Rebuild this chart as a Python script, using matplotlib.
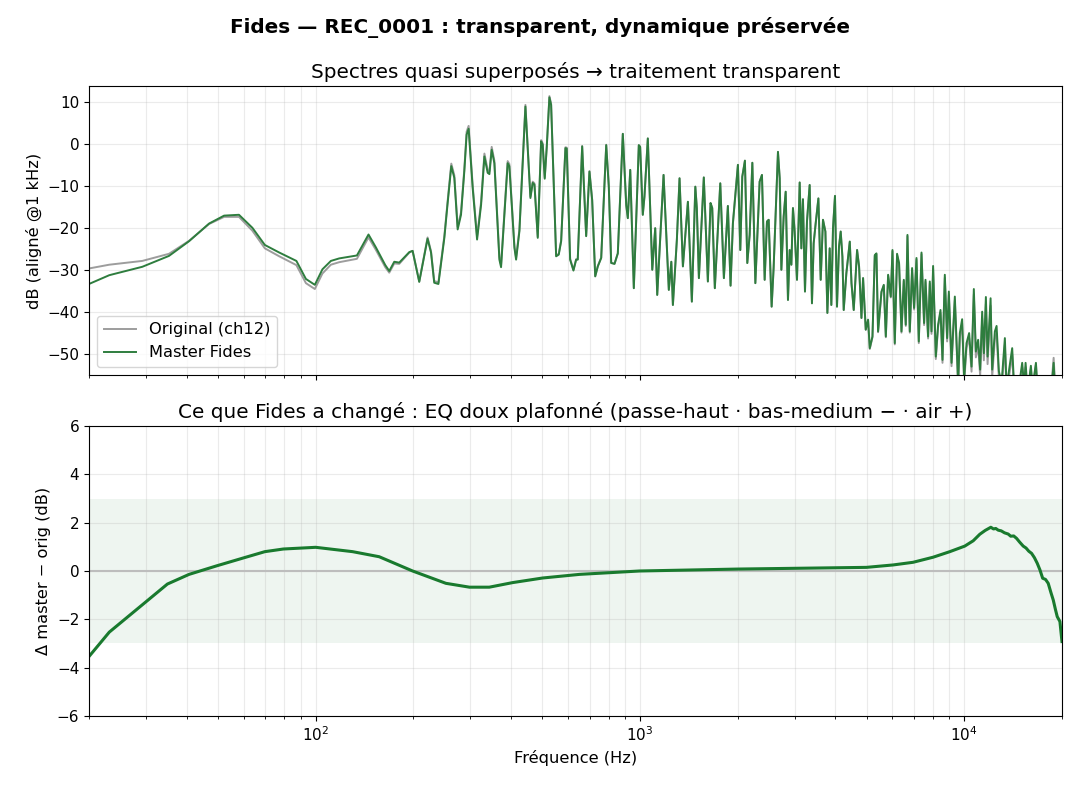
import numpy as np
import matplotlib
matplotlib.use("Agg")
import matplotlib.pyplot as plt

# ── Spectre, par bandes ──────────────────────────────────────────────────────
# graves : original et master diffèrent (passe-haut / bas-medium)
F_LOW = [20, 23.1, 29.2, 35.3, 40.7, 46.9, 52.2, 58.0, 63.8, 69.7, 77.2, 87.2,
         93.3, 99.4, 104.9, 111.4, 118.2, 134, 145.5, 153.4, 163.9, 168.6,
         174.7, 181, 194.4, 199, 208.6, 221.3, 226.8, 232, 239]
M_LOW = [-33.3, -31.2, -29.2, -26.6, -23.1, -18.9, -17.0, -16.8, -19.9, -24.0,
         -25.8, -27.8, -32.1, -33.5, -29.8, -27.8, -27.2, -26.5, -21.5, -24.6,
         -28.8, -30.2, -28.0, -28.2, -25.7, -25.4, -32.8, -22.5, -25.8, -33.0,
         -33.3]
O_LOW = [-29.6, -28.7, -27.8, -26.1, -23.0, -19.0, -17.3, -17.3, -20.6, -24.8,
         -26.7, -28.8, -33.1, -34.5, -30.8, -28.7, -28.1, -27.3, -22.2, -25.2,
         -29.3, -30.6, -28.4, -28.5, -25.8, -25.4, -32.7, -22.2, -25.5, -32.6,
         -32.9]

# bas-medium
F_MID = [249.3, 255.2, 261.9, 267.6, 274.0, 280.6, 287.3, 292.0, 296.2, 304.8,
         314.5, 323.6, 331.3, 339.1, 343.3, 348.9, 355.6, 368.5, 372.9, 390.8,
         395.5, 410.0, 414.9, 424.8, 443.3, 459.3, 466.9, 472.6, 483.8, 495.6,
         501.2, 508.4, 515.6, 525.6, 532.0, 551.3, 561.6, 571.3, 588.9, 594.4,
         608.9, 623.4, 635.4, 642.7, 663.2, 682.3, 698.4, 712.0, 727.6, 741.2,
         759.2, 786.7, 801.3, 815.0]
M_MID = [-22.3, -14.0, -5.2, -8.0, -20.3, -16.8, -6.4, 2.3, 3.7, -10.4,
         -22.7, -14.4, -2.9, -6.8, -7.1, -1.3, -4.5, -27.5, -29.3, -4.5,
         -5.2, -24.7, -27.5, -20.7, 9.0, -12.8, -9.2, -9.6, -22.3, 0.7,
         -0.1, -8.2, -0.9, 11.2, 9.4, -26.7, -26.3, -23.1, -0.9, -1.0,
         -27.5, -30.1, -27.5, -27.5, -0.5, -21.9, -6.5, -13.3, -31.5, -29.1,
         -27.1, -0.2, -10.1, -28.3]
O_MID = [-21.8, -13.5, -4.6, -7.4, -19.7, -16.2, -5.8, 3.0, 4.4, -9.7,
         -22.0, -13.7, -2.2, -6.1, -6.4, -0.6, -3.9, -26.9, -28.7, -4.0,
         -4.7, -24.2, -27.0, -20.3, 9.4, -12.4, -8.9, -9.3, -22.0, 1.0,
         0.2, -7.9, -0.6, 11.5, 9.6, -26.5, -26.1, -22.9, -0.7, -0.8,
         -27.3, -29.9, -27.4, -27.4, -0.4, -21.8, -6.4, -13.2, -31.4, -29.0,
         -27.0, -0.1, -10.0, -28.2]

# medium : les deux courbes se confondent
F_SHARED = [834.4, 854.2, 885.1, 906.8, 917.1, 933.0, 957.0, 991.5, 1001, 1020,
            1032, 1057, 1091, 1114, 1130, 1182, 1227, 1249, 1263, 1299, 1324,
            1356, 1382, 1405, 1445, 1481, 1497, 1519, 1573, 1619, 1650, 1670,
            1701, 1768, 1814, 1866, 1902, 1934, 2004, 2038, 2067, 2106, 2142,
            2178, 2220, 2268, 2338, 2377, 2423, 2463, 2493, 2546, 2582, 2663,
            2696, 2728, 2773, 2813, 2859, 2894, 2929, 2962, 2998, 3048, 3107,
            3144, 3180, 3226, 3272, 3335, 3390, 3431, 3481, 3548, 3607, 3666,
            3729, 3782, 3845, 3890, 3936, 3992, 4049, 4107, 4157, 4208, 4247,
            4328, 4434, 4488, 4560, 4670, 4736, 4817, 4873, 4966]
SHARED_DB = [-28.5, -26.0, 2.5, -14.5, -17.6, -6.1, -34.3, -0.2, -0.6, -16.8,
             -12.5, 1.4, -29.9, -20.0, -35.9, -7.3, -34.7, -28.0, -38.3, -22.8,
             -8.1, -29.1, -20.8, -13.7, -37.5, -10.1, -15.2, -31.9, -7.9, -32.7,
             -14.0, -15.2, -34.3, -9.3, -31.9, -14.7, -33.7, -18.8, -4.9, -25.2,
             -7.7, -3.9, -28.3, -21.6, -4.4, -33.1, -8.9, -7.3, -32.3, -18.4,
             -18.0, -38.7, -29.5, -1.8,
             -8.1, -29.9, -17.2, -11.3, -37.1, -25.2, -28.7, -15.2, -20.8, -32.3,
             -9.1, -24.8, -13.1, -35.1, -18.4, -9.7, -37.9, -23.6, -18.8, -12.9,
             -32.3, -18.0, -20.8, -40.2, -24.8, -38.3, -20.0, -12.3, -38.7, -24.4,
             -20.8, -26.8, -39.5, -30.7, -23.2, -33.1, -39.5, -25.2, -29.1, -41.4,
             -31.9, -44.2]

# aigus : l'air ajouté par le master
F_HIGH = [5049, 5110, 5209, 5295, 5358, 5420, 5553, 5645, 5727, 5821,
          5932, 6004, 6103, 6203, 6292, 6400, 6506, 6598, 6678, 6789,
          6901, 7000, 7120, 7237, 7378, 7515, 7590, 7731, 7825, 7921,
          8011, 8166, 8301, 8443, 8564, 8706, 8850, 8958, 9131, 9348,
          9461, 9570, 9685, 9845, 9986, 10157, 10347, 10525, 10698, 10852,
          11030, 11189, 11350, 11488, 11653, 11794, 12049, 12186, 12421, 12573,
          12780, 13027, 13335, 13497, 14046, 14247, 14657, 15080, 15296, 15448,
          15670, 16040, 16236, 16625, 16826, 17724, 18584, 18851, 19026, 20000]
M_HIGH = [-41.8, -48.6, -45.8, -26.4, -26.0, -44.6, -35.1, -33.5, -45.8, -31.1,
          -36.3, -25.2, -47.4, -26.1, -28.3, -44.6, -32.3, -43.0, -21.6, -44.6,
          -29.5, -39.0, -27.1, -47.0, -25.8, -42.6, -32.3, -45.8, -32.7, -44.6,
          -29.0, -50.6, -43.0, -39.5, -51.4, -31.1, -46.2, -35.1, -52.1, -36.3,
          -46.6, -57.0, -45.0, -41.7, -56.0, -47.4, -45.0, -53.0, -34.5, -49.4,
          -46.6, -53.7, -39.9, -49.8, -36.4, -50.6, -36.7, -53.7, -44.6, -43.3,
          -54.1, -57.0, -46.2, -58.0, -48.6, -58.0, -59.0, -52.1, -58.0, -52.1,
          -59.0, -52.8, -58.0, -52.1, -59.0, -61.0, -58.0, -52.1, -58.0, -60.0]
O_HIGH = [-42.0, -48.8, -46.0, -26.6, -26.2, -44.8, -35.3, -33.7, -46.0, -31.3,
          -36.5, -25.5, -47.7, -26.4, -28.6, -44.9, -32.6, -43.3, -21.9, -44.9,
          -29.9, -39.4, -27.5, -47.4, -26.2, -43.1, -32.8, -46.3, -33.2, -45.2,
          -29.6, -51.2, -43.6, -40.2, -52.1, -31.8, -47.0, -35.9, -52.9, -37.2,
          -47.5, -57.9, -46.0, -42.7, -57.0, -48.5, -46.2, -54.2, -35.8, -50.8,
          -48.1, -55.2, -41.5, -51.5, -38.1, -52.4, -38.5, -55.5, -46.4, -45.0,
          -55.8, -58.6, -47.8, -59.6, -50.1, -59.4, -60.3, -53.2, -59.0, -53.1,
          -59.9, -53.6, -58.7, -52.5, -59.3, -60.6, -57.0, -50.9, -56.5, -57.1]

freq_hz = F_LOW + F_MID + F_SHARED + F_HIGH
master_db = M_LOW + M_MID + SHARED_DB + M_HIGH
orig_db = O_LOW + O_MID + SHARED_DB + O_HIGH

# ── Différence master - original (courbe lissée) ─────────────────────────────
delta_hz = [
    20, 23.1, 29.2, 34.9, 40.7, 49.7, 60.2, 69.7, 79.5, 100, 130, 157, 199,
    252, 298, 343, 405, 501, 651, 997, 2004, 4990, 6030, 6950, 8010, 9020,
    10030, 10650, 11160, 11600, 12070, 12300, 12500, 12720, 13000, 13300,
    13650, 13900, 14200, 14490, 14800, 15190, 15500, 15800, 16120, 16450,
    16780, 17100, 17440, 17800, 18140, 18500, 18800, 19100, 19340, 19710, 20000,
]
delta_db = [
    -3.54, -2.53, -1.40, -0.54, -0.14, 0.22, 0.55, 0.80, 0.91, 0.98, 0.80,
    0.59, 0.0, -0.51, -0.67, -0.67, -0.48, -0.29, -0.14, 0.0, 0.08, 0.15,
    0.25, 0.36, 0.57, 0.80, 1.03, 1.25, 1.52, 1.68, 1.81, 1.74, 1.76, 1.69,
    1.66, 1.58, 1.53, 1.44, 1.45, 1.35, 1.20, 1.03, 0.95, 0.82, 0.73, 0.55,
    0.32, 0.05, -0.30, -0.35, -0.51, -0.90, -1.20, -1.60, -1.89, -2.09, -2.92,
]

C_MASTER = "#2e7d3e"
C_DELTA = "#197a2e"

fig = plt.figure(figsize=(10.8, 7.92), dpi=100)
ax1 = fig.add_axes([0.0824, 0.5265, 0.9009, 0.3649])
ax2 = fig.add_axes([0.0824, 0.0960, 0.9009, 0.3661], sharex=ax1)

# ── Haut : spectres ──────────────────────────────────────────────────────────
ax1.semilogx(freq_hz, orig_db, color="#8c8c8c", lw=1.4, alpha=0.85,
             label="Original (ch12)")
ax1.semilogx(freq_hz, master_db, color=C_MASTER, lw=1.4,
             label="Master Fides")
ax1.set_xlim(20, 20000)
ax1.set_ylim(-55, 13.9)
ax1.set_ylabel("dB (aligné @1 kHz)", fontsize=11.7)
ax1.set_title("Spectres quasi superposés → traitement transparent",
              fontsize=14.4)
ax1.grid(True, which="both", alpha=0.25)
ax1.legend(loc="lower left", fontsize=11.7)
ax1.tick_params(labelbottom=False, labelsize=11)

# ── Bas : delta ──────────────────────────────────────────────────────────────
ax2.axhspan(-3, 3, color=C_DELTA, alpha=0.07, lw=0)
ax2.axhline(0, color="#bdbdbd", lw=1.5)
ax2.semilogx(delta_hz, delta_db, color=C_DELTA, lw=2.2)
ax2.set_ylim(-6, 6)
ax2.set_yticks([-6, -4, -2, 0, 2, 4, 6])
ax2.set_ylabel("Δ master − orig (dB)", fontsize=11.7)
ax2.set_xlabel("Fréquence (Hz)", fontsize=11.7)
ax2.set_title("Ce que Fides a changé : EQ doux plafonné "
              "(passe-haut · bas-medium − · air +)", fontsize=14.4)
ax2.grid(True, which="both", alpha=0.25)
ax2.tick_params(labelsize=11)

fig.suptitle("Fides — REC_0001 : transparent, dynamique préservée",
             fontsize=14.4, fontweight="bold", y=0.978)

fig.savefig("out.png", dpi=100)
